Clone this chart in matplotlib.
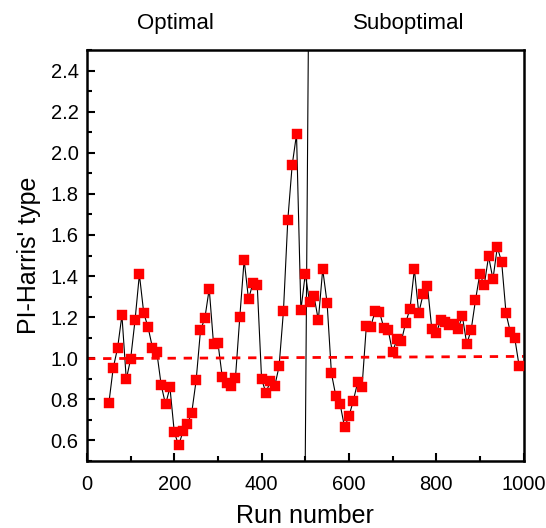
import matplotlib
matplotlib.use("Agg")
import matplotlib.pyplot as plt
import numpy as np

plt.rcParams['font.family'] = ['Liberation Sans', 'DejaVu Sans']

run_number = list(range(50, 1000, 10))
pi_harris = [
    0.780, 0.952, 1.049, 1.209, 0.897, 0.997, 1.184, 1.408, 1.220, 1.150,
    1.051, 1.028, 0.869, 0.775, 0.858, 0.640, 0.576, 0.645, 0.679, 0.736,
    0.892, 1.136, 1.195, 1.338, 1.067, 1.074, 0.907, 0.880, 0.863, 0.902,
    1.199, 1.479, 1.288, 1.364, 1.355, 0.898, 0.832, 0.889, 0.864, 0.960,
    1.228, 1.672, 1.939, 2.090, 1.233, 1.410, 1.272, 1.302, 1.186, 1.433,
    1.270, 0.926, 0.817, 0.775, 0.665, 0.717, 0.793, 0.882, 0.858, 1.158,
    1.153, 1.229, 1.226, 1.148, 1.137, 1.030, 1.092, 1.082, 1.172, 1.241,
    1.434, 1.220, 1.311, 1.351, 1.140, 1.121, 1.184, 1.176, 1.160, 1.166,
    1.142, 1.204, 1.070, 1.137, 1.283, 1.411, 1.355, 1.496, 1.385, 1.541,
    1.467, 1.218, 1.126, 1.098, 0.962,
]
trend_x = [0, 1000]
trend_y = [0.998, 1.009]
divider_x = [500, 507]
divider_y = [0.5, 2.5]
region_labels = ["Optimal", "Suboptimal"]

fig = plt.figure(figsize=(5.46, 5.28), dpi=100)
ax = fig.add_axes([87/546, 1-461/528, (523.5-87)/546, (461-50)/528])

ax.plot(run_number, pi_harris, color='black', lw=0.8, zorder=2)
ax.plot(run_number, pi_harris, ls='none', marker='s', ms=6.8,
        mfc='#ff0000', mec='#ff0000', mew=0.3, zorder=3)
ax.plot(trend_x, trend_y, color='#ff0000', lw=2.0, ls=(0, (3, 2.8)), zorder=2.5)
ax.plot(divider_x, divider_y, color='black', lw=0.8, zorder=1)

ax.set_xlim(0, 1000)
ax.set_ylim(0.5, 2.5)
ax.set_xticks(np.arange(0, 1001, 200))
ax.set_xticks(np.arange(100, 1000, 200), minor=True)
ax.set_yticks(np.arange(0.6, 2.41, 0.2))
ax.set_yticks(np.arange(0.5, 2.51, 0.2), minor=True)
ax.set_yticklabels([f"{v:.1f}" for v in np.arange(0.6, 2.41, 0.2)])

for s in ax.spines.values():
    s.set_linewidth(1.8)
ax.tick_params(which='both', direction='in', width=1.5, labelsize=14.5,
               top=False, right=False)
ax.tick_params(which='major', length=6, pad=6)
ax.tick_params(which='minor', length=3.8)
ax.tick_params(axis='x', which='major', pad=10)

ax.set_xlabel("Run number", fontsize=18, labelpad=7)
ax.set_ylabel("PI-Harris' type", fontsize=18, labelpad=7)

fig.text(175/546, 1-28.5/528, region_labels[0], fontsize=16, ha='center', va='baseline')
fig.text(409/546, 1-28.5/528, region_labels[1], fontsize=16, ha='center', va='baseline')

fig.savefig("out.png", dpi=100)
